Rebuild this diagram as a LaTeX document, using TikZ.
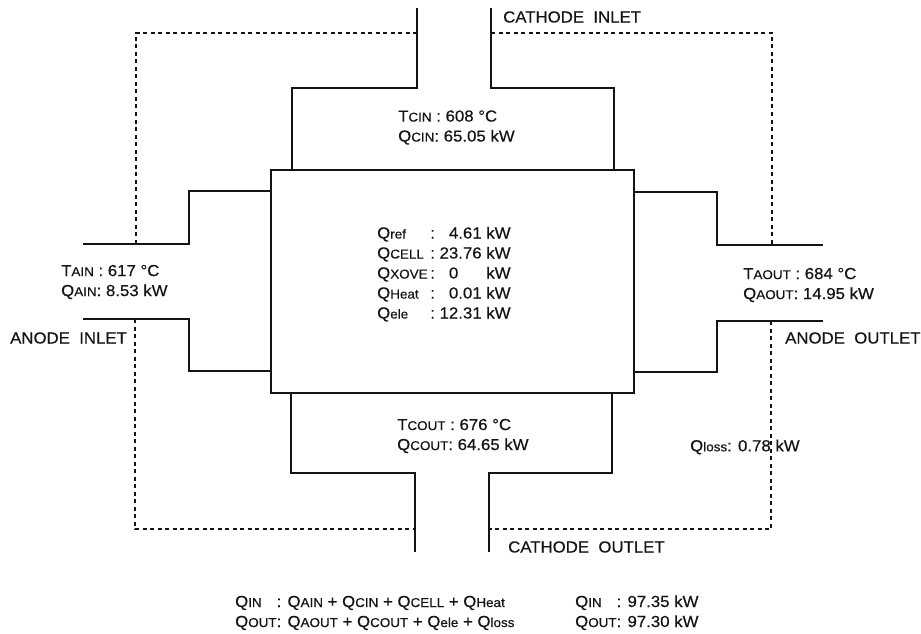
\documentclass[tikz,border=0pt]{standalone}
\usepackage{fontspec}
\setmainfont{Liberation Sans}[FakeStretch=1.05,FakeBold=0.4]
\usetikzlibrary{positioning}
\definecolor{ink}{RGB}{20,20,20}
\newcommand{\capsub}[1]{{\fontsize{12.8}{20}\selectfont #1}}
\tikzset{
  wall/.style={line width=1.8pt,draw=ink},
  shell/.style={line width=1.4pt,draw=ink,dash pattern=on 4pt off 3.5pt},
  stack/.style={line width=2pt,draw=ink},
  lbl/.style={font=\fontsize{16}{20}\selectfont,text=ink,anchor=west,inner sep=0pt,align=left}
}

\begin{document}
\begin{tikzpicture}[x=1pt,y=-1pt]
  \useasboundingbox (0,0) rectangle (921,634);

  % cell stack
  \draw[stack] (271,170) rectangle (634,393);

  % cathode inlet
  \draw[wall] (417,8) -- (417,88) -- (292,88) -- (292,170);
  \draw[wall] (491,8) -- (491,88) -- (614,88) -- (614,170);
  % anode inlet
  \draw[wall] (83,244) -- (189,244) -- (189,191) -- (271,191);
  \draw[wall] (83,319) -- (189,319) -- (189,371) -- (271,371);
  % anode outlet
  \draw[wall] (634,192) -- (717,192) -- (717,245) -- (823,245);
  \draw[wall] (634,372) -- (717,372) -- (717,321) -- (823,321);
  % cathode outlet
  \draw[wall] (291,393) -- (291,473) -- (415,473) -- (415,552);
  \draw[wall] (612,393) -- (612,473) -- (489,473) -- (489,552);

  % heat-loss envelope
  \draw[shell] (417,33) -- (136,33) -- (136,244);
  \draw[shell] (491,33) -- (772,33) -- (772,245);
  \draw[shell] (135,319) -- (135,529) -- (415,529);
  \draw[shell] (771,321) -- (771,529) -- (489,529);

  % port names
  \node[lbl] (cin)  at (503,17)  {CATHODE\ \ INLET};
  \node[lbl] (ain)  at (10,338)  {ANODE\ \ INLET};
  \node[lbl] (aout) at (785,338) {ANODE\ \ OUTLET};
  \node[lbl] (cout) at (508,547) {CATHODE\ \ OUTLET};

  % stream values
  \node[lbl] (cinval)  at (398,127.5) {T\capsub{CIN} : 608 °C\\Q\capsub{CIN}: 65.05 kW};
  \node[lbl] (ainval)  at (61,282)    {T\capsub{AIN} : 617 °C\\Q\capsub{AIN}: 8.53 kW};
  \node[lbl] (aoutval) at (743,285)   {T\capsub{AOUT} : 684 °C\\Q\capsub{AOUT}: 14.95 kW};
  \node[lbl] (coutval) at (397,436)   {T\capsub{COUT} : 676 °C\\Q\capsub{COUT}: 64.65 kW};
  \node[lbl] (loss)    at (690,447)   {Q\capsub{loss}: 0.78 kW};

  \node[lbl] (cell) at (377,274.5) {%
    \begin{tabular}{@{}l@{\,}l@{\ }r@{\ }l@{}}
      Q\capsub{ref}  & : & 4.61 & kW\\
      Q\capsub{CELL} & : & 23.76 & kW\\
      Q\capsub{XOVE} & : & 0\hphantom{.00} & kW\\
      Q\capsub{Heat} & : & 0.01 & kW\\
      Q\capsub{ele}  & : & 12.31 & kW
    \end{tabular}};

  % balance
  \node[lbl] (baleq) at (235,613) {%
    \begin{tabular}{@{}l@{}l@{}}
      Q\capsub{IN}\ \  & : Q\capsub{AIN} + Q\capsub{CIN} + Q\capsub{CELL} + Q\capsub{Heat}\\
      Q\capsub{OUT}    & : Q\capsub{AOUT} + Q\capsub{COUT} + Q\capsub{ele} + Q\capsub{loss}
    \end{tabular}};
  \node[lbl] (balval) at (575,613) {%
    \begin{tabular}{@{}l@{}l@{}}
      Q\capsub{IN}\ \  & : 97.35 kW\\
      Q\capsub{OUT}    & : 97.30 kW
    \end{tabular}};
\end{tikzpicture}
\end{document}
